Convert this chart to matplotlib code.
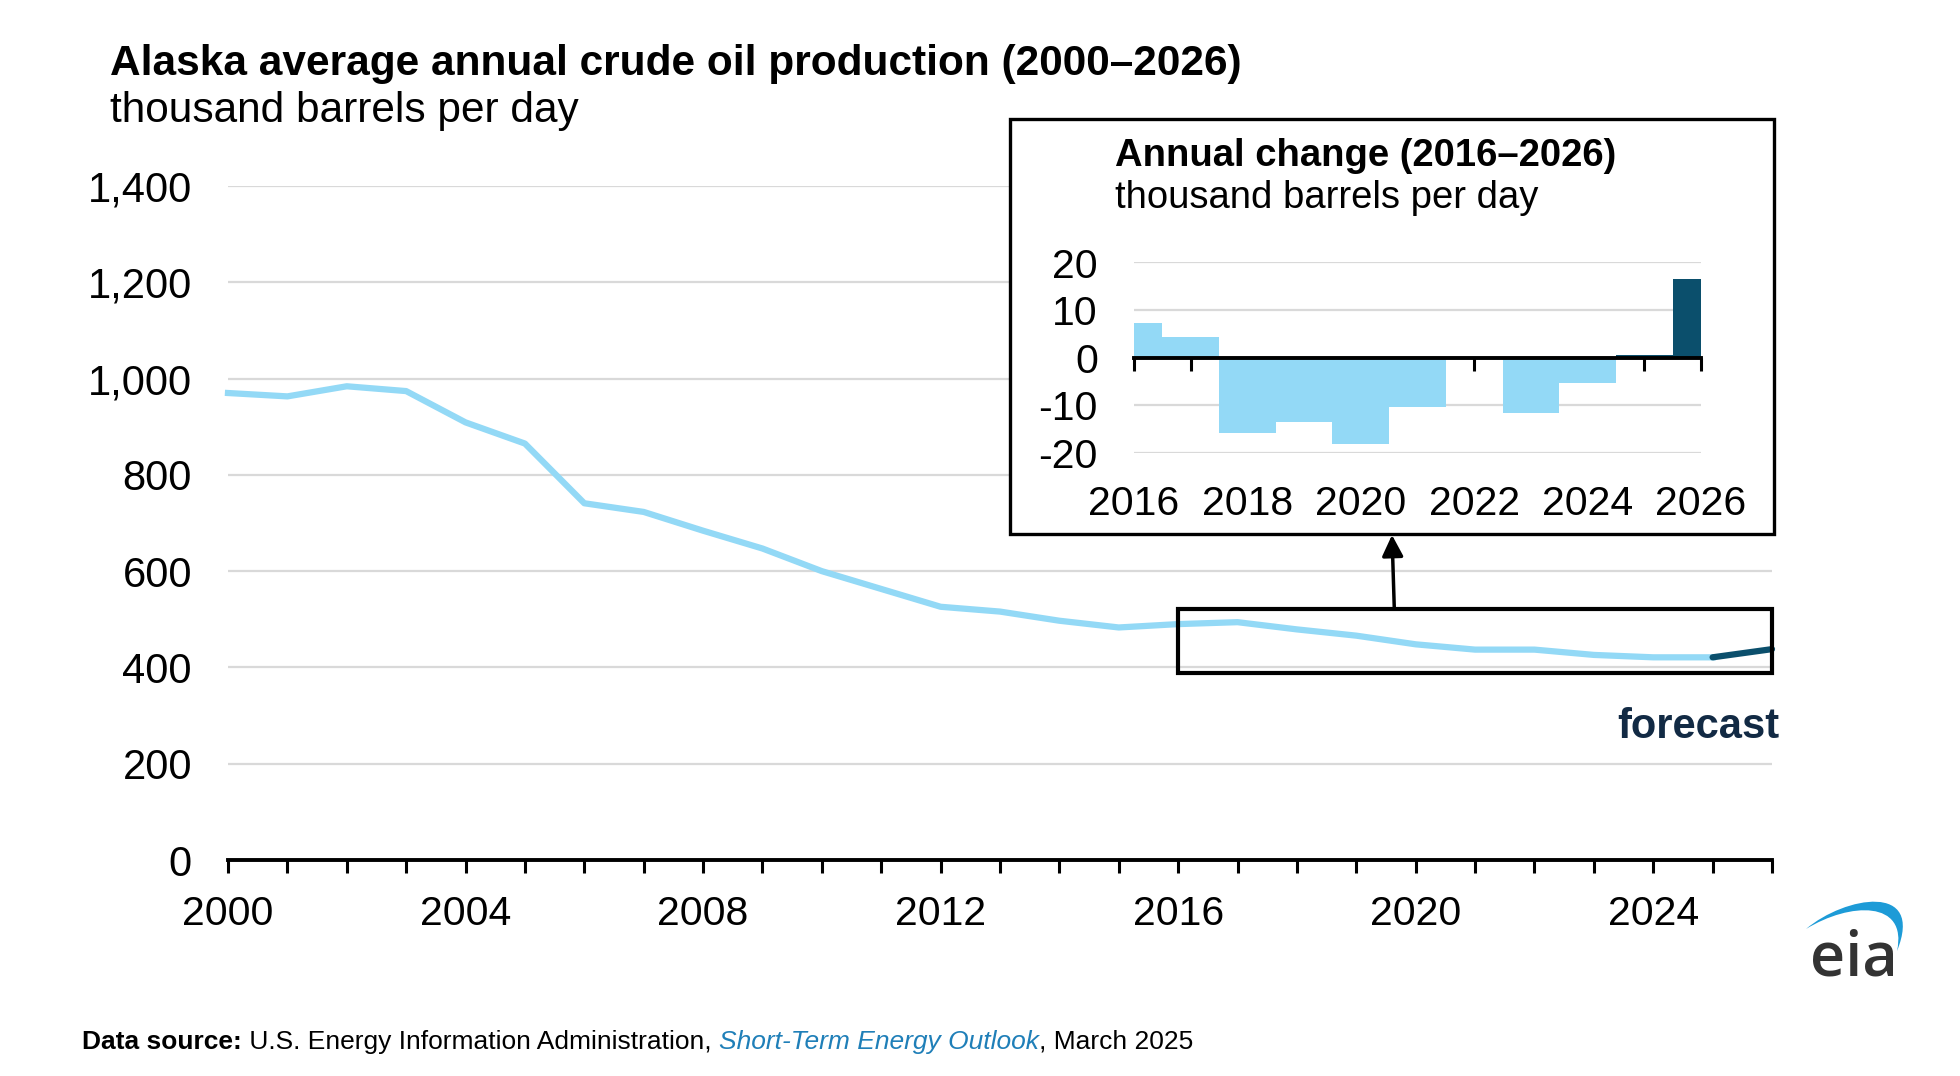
import matplotlib
matplotlib.use('Agg')
import matplotlib.pyplot as plt
from matplotlib.patches import Rectangle, PathPatch
from matplotlib.path import Path

plt.rcParams['font.family'] = ['Liberation Sans', 'DejaVu Sans']
plt.rcParams['axes.unicode_minus'] = False

# -------------------------------------------------------------------
# data
# -------------------------------------------------------------------
years = list(range(2000, 2027))
production = [970, 963, 984, 974, 909, 865, 741, 723, 684, 647, 600, 563, 526, 516, 497, 483,
              490, 494, 479, 466, 448, 437, 437, 426, 421, 421, 438]
forecast_from = 2025

change_years = list(range(2016, 2027))
change = [7.2, 4.3, -15.9, -13.4, -18.1, -10.3, 0, -11.5, -5.3, 0.6, 16.6]

x_labels = [str(y) if (y - 2000) % 4 == 0 else '' for y in years]
inset_labels = ['2016', '2018', '2020', '2022', '2024', '2026']

LIGHT = '#93d9f6'
DARK = '#0b4f6c'
GRID = '#d9d9d9'

W, H = 1960, 1076


def fx(px):
    return px / W


def fy(py):
    return 1 - py / H


fig = plt.figure(figsize=(W / 100, H / 100), dpi=100)

# -------------------------------------------------------------------
# main chart
# -------------------------------------------------------------------
ax = fig.add_axes([fx(228), fy(860), fx(1772) - fx(228), fy(186) - fy(860)], zorder=0)
i0 = years.index(forecast_from)
ax.plot(years[:i0 + 1], production[:i0 + 1], color=LIGHT, lw=4.5, zorder=3, clip_on=False)
ax.plot(years[i0:], production[i0:], color=DARK, lw=4.5, solid_capstyle='round', zorder=3, clip_on=False)

ax.set_xlim(2000, 2026)
ax.set_ylim(0, 1400)
ax.set_yticks(range(0, 1401, 200))
ax.set_yticklabels([f'{v:,}' for v in range(0, 1401, 200)])
ax.set_xticks(years)
ax.set_xticklabels(x_labels)
ax.grid(axis='y', color=GRID, lw=1.6)
ax.set_axisbelow(True)
for s in ['left', 'right', 'top']:
    ax.spines[s].set_visible(False)
ax.spines['bottom'].set_linewidth(2.8)
ax.tick_params(axis='x', length=9.5, width=2.2, pad=16, labelsize=29.5)
ax.tick_params(axis='y', length=0, pad=26, labelsize=30)

# box around the zoomed part
ax.add_patch(Rectangle((2016, 388), 10, 133, fill=False, ec='black', lw=3, clip_on=False, zorder=4))
ax.text(2026.13, 253, 'forecast', ha='right', va='baseline', fontsize=30, fontweight='bold', color='#122a44')

# -------------------------------------------------------------------
# inset: annual change
# -------------------------------------------------------------------
box = Rectangle((fx(1010), fy(534)), fx(1774) - fx(1010), fy(119) - fy(534), transform=fig.transFigure,
                fc='white', ec='black', lw=2.4, zorder=1)
fig.add_artist(box)

ax.annotate('', xy=(fx(1392), fy(535)), xycoords='figure fraction',
            xytext=(2019.64, 521), textcoords='data',
            arrowprops=dict(arrowstyle='-|>', color='black', lw=2.5, mutation_scale=32,
                            shrinkA=0, shrinkB=0), zorder=5)

ax2 = fig.add_axes([fx(1134), fy(453), fx(1701) - fx(1134), fy(262.5) - fy(453)], zorder=2)
ax2.patch.set_alpha(0)
colors = [DARK if y >= forecast_from else LIGHT for y in change_years]
ax2.bar(change_years, change, width=1.0, color=colors, zorder=2)
ax2.set_xlim(2016, 2026)
ax2.set_ylim(-20, 20)
ax2.set_yticks([-20, -10, 0, 10, 20])
ax2.set_yticklabels(['-20', '-10', '0', '10', '20'])
ax2.grid(axis='y', color=GRID, lw=1.6)
ax2.set_axisbelow(True)
for s in ['left', 'right', 'top']:
    ax2.spines[s].set_visible(False)
ax2.spines['bottom'].set_position(('data', 0))
ax2.spines['bottom'].set_linewidth(2.8)
ax2.spines['bottom'].set_zorder(3)
ax2.set_xticks(change_years)
ax2.tick_params(axis='x', length=9, width=2.2, labelbottom=False)
ax2.tick_params(axis='y', length=0, pad=26, labelsize=29.5)

sec = ax2.secondary_xaxis('bottom')
sec.set_xticks(range(2016, 2027, 2))
sec.set_xticklabels(inset_labels)
sec.tick_params(length=0, pad=23, labelsize=29.5)
sec.spines['bottom'].set_visible(False)

fig.text(fx(1115), fy(166), 'Annual change (2016–2026)', fontsize=27.5, fontweight='bold', va='baseline')
fig.text(fx(1115), fy(208), 'thousand barrels per day', fontsize=27.5, va='baseline')

# -------------------------------------------------------------------
# titles, source, logo
# -------------------------------------------------------------------
fig.text(fx(110), fy(75), 'Alaska average annual crude oil production (2000–2026)',
         fontsize=30.5, fontweight='bold', va='baseline')
fig.text(fx(110), fy(122), 'thousand barrels per day', fontsize=30.5, va='baseline')

fig.canvas.draw()
renderer = fig.canvas.get_renderer()
parts = [('Data source:', 'bold', 'normal', 'black'),
         (' U.S. Energy Information Administration, ', 'normal', 'normal', 'black'),
         ('Short-Term Energy Outlook', 'normal', 'italic', '#1f7fb8'),
         (', March 2025', 'normal', 'normal', 'black')]
xpos = 82
for txt, wt, st, col in parts:
    t = fig.text(fx(xpos), fy(1049), txt, fontsize=19, fontweight=wt, fontstyle=st, color=col,
                 va='baseline', family=['Liberation Sans', 'DejaVu Sans'])
    xpos = t.get_window_extent(renderer).x1

fig.text(fx(1810), fy(975), 'eia', fontsize=44, fontweight='semibold', color='#333333',
         va='baseline', family=['Open Sans', 'DejaVu Sans'])
arc_pts = [(1806, 929), (1845, 896), (1925, 882), (1897, 951),
           (1908, 900), (1850, 902), (1806, 929)]
arc = Path([(fx(a), fy(b)) for a, b in arc_pts],
           [Path.MOVETO, Path.CURVE4, Path.CURVE4, Path.CURVE4, Path.CURVE4, Path.CURVE4, Path.CURVE4])
fig.add_artist(PathPatch(arc, transform=fig.transFigure, fc='#1d9bd7', ec='none'))

fig.savefig('out.png', dpi=100)
